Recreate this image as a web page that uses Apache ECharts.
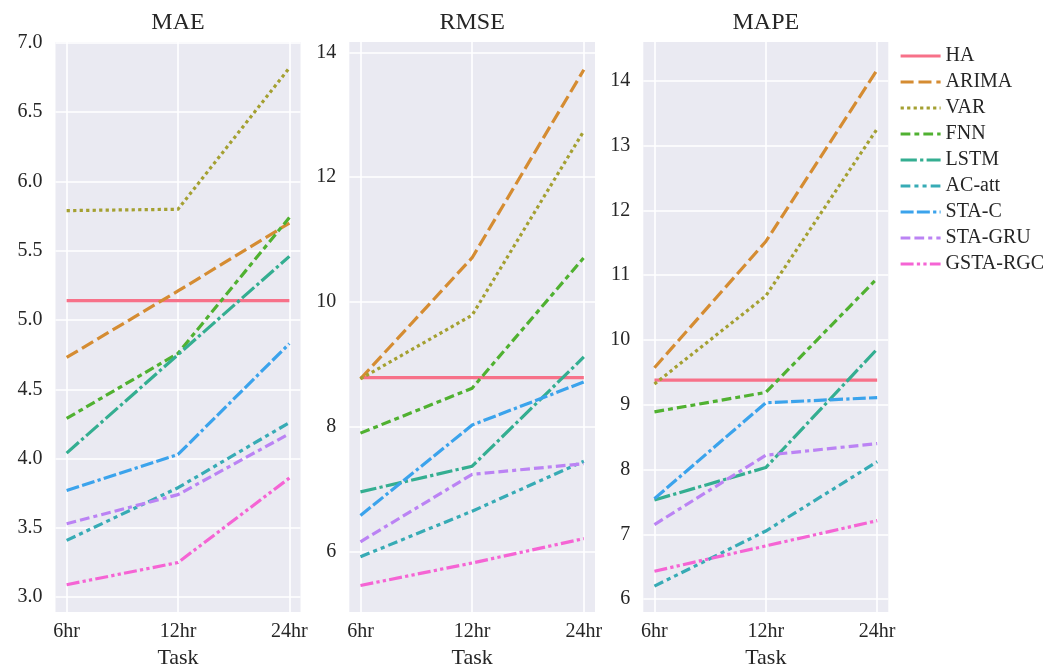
<!DOCTYPE html>
<html>
<head>
<meta charset="utf-8">
<script src="https://cdn.jsdelivr.net/npm/echarts@6/dist/echarts.min.js"></script>
<style>
html,body{margin:0;padding:0;background:#fff;}
#chart{width:1063px;height:666px;}
</style>
</head>
<body>
<div id="chart"></div>
<script>
const categories = ['6hr', '12hr', '24hr'];
const models = ['HA', 'ARIMA', 'VAR', 'FNN', 'LSTM', 'AC-att', 'STA-C', 'STA-GRU', 'GSTA-RGC'];
const metrics = ['MAE', 'RMSE', 'MAPE'];
const xLabel = 'Task';

// values per model (order of models), per task (order of categories)
const maeValues = [
  [5.14, 5.14, 5.14],
  [4.73, 5.21, 5.70],
  [5.79, 5.80, 6.82],
  [4.29, 4.76, 5.74],
  [4.04, 4.75, 5.46],
  [3.41, 3.79, 4.26],
  [3.77, 4.03, 4.83],
  [3.53, 3.74, 4.18],
  [3.09, 3.25, 3.86]
];
const rmseValues = [
  [8.79, 8.79, 8.79],
  [8.77, 10.71, 13.72],
  [8.77, 9.79, 12.74],
  [7.90, 8.62, 10.71],
  [6.96, 7.37, 9.12],
  [5.92, 6.65, 7.45],
  [6.58, 8.03, 8.72],
  [6.16, 7.24, 7.41],
  [5.46, 5.82, 6.21]
];
const mapeValues = [
  [9.38, 9.38, 9.38],
  [9.57, 11.52, 14.17],
  [9.32, 10.68, 13.26],
  [8.89, 9.19, 10.95],
  [7.53, 8.03, 9.86],
  [6.20, 7.05, 8.12],
  [7.55, 9.03, 9.11],
  [7.15, 8.22, 8.40],
  [6.43, 6.82, 7.21]
];

const palette = ['#f77189', '#d58c32', '#a4a031', '#50b131', '#34ae91', '#37abb5', '#3ba3ec', '#bb83f4', '#f564d4'];
const dashUnits = [
  null,
  [4, 1.5],
  [1, 1],
  [3, 1.25, 1.5, 1.25],
  [5, 1, 1, 1],
  [3, 1.25, 1.25, 1.25, 1.25, 1.25],
  [4, 1, 4, 1, 1, 1],
  [3, 1.25, 3, 1.25, 1.25, 1.25],
  [4, 1, 1, 1, 1, 1]
];

const FONT = '"Liberation Serif", "DejaVu Serif", serif';
const TXT = '#262626';
const LW = 3.2;
const DU = 3.25;

const panels = [
  { values: maeValues, left: 55.5, width: 245, min: 2.893, max: 7.007, split: 8, fmt: v => v.toFixed(1) },
  { values: rmseValues, left: 349.3, width: 245.7, min: 5.035, max: 14.165, split: 5, fmt: v => String(Math.round(v)) },
  { values: mapeValues, left: 643.3, width: 245, min: 5.8, max: 14.6, split: 9, fmt: v => String(Math.round(v)) }
];
const TOP = 42, HEIGHT = 570;

const grids = [], xAxes = [], yAxes = [], titles = [], series = [];
panels.forEach((p, i) => {
  grids.push({ left: p.left, top: TOP, width: p.width, height: HEIGHT, show: true, backgroundColor: '#eaeaf2', borderWidth: 0, containLabel: false, outerBoundsMode: 'none' });
  titles.push({
    text: metrics[i], left: p.left + p.width / 2, top: 11, textAlign: 'center', padding: 0,
    textStyle: { fontFamily: FONT, fontSize: 24, fontWeight: 'normal', color: TXT }
  });
  xAxes.push({
    type: 'value', gridIndex: i, min: -0.1, max: 2.1, splitNumber: 2,
    name: xLabel, nameLocation: 'middle', nameGap: 31,
    nameTextStyle: { fontFamily: FONT, fontSize: 22, color: TXT },
    axisLine: { show: false }, axisTick: { show: false },
    axisLabel: {
      fontFamily: FONT, fontSize: 20, color: TXT, margin: 10,
      showMinLabel: false, showMaxLabel: false,
      formatter: v => (Math.abs(v - Math.round(v)) < 1e-6 && categories[Math.round(v)]) ? categories[Math.round(v)] : ''
    },
    splitLine: { show: true, showMinLine: false, showMaxLine: false, lineStyle: { color: '#ffffff', width: 1.6 } }
  });
  yAxes.push({
    type: 'value', gridIndex: i, min: p.min, max: p.max, splitNumber: p.split,
    axisLine: { show: false }, axisTick: { show: false },
    axisLabel: {
      fontFamily: FONT, fontSize: 20, color: TXT, margin: 13,
      showMinLabel: false, showMaxLabel: false,
      formatter: p.fmt
    },
    splitLine: { show: true, showMinLine: false, showMaxLine: false, lineStyle: { color: '#ffffff', width: 1.6 } }
  });
  models.forEach((m, j) => {
    series.push({
      type: 'line', name: m, xAxisIndex: i, yAxisIndex: i,
      data: p.values[j].map((v, k) => [k, v]),
      symbol: 'none', showSymbol: false,
      itemStyle: { color: palette[j] },
      lineStyle: { color: palette[j], width: LW, type: dashUnits[j] ? dashUnits[j].map(d => d * DU) : 'solid', join: 'round' },
      emphasis: { disabled: true },
      animation: false
    });
  });
});

const chart = echarts.init(document.getElementById('chart'), null, { renderer: 'canvas' });
chart.setOption({
  backgroundColor: '#ffffff',
  animation: false,
  title: titles,
  grid: grids,
  xAxis: xAxes,
  yAxis: yAxes,
  legend: {
    data: models, orient: 'vertical', left: 899, top: 46,
    itemWidth: 40, itemHeight: 14, itemGap: 6, padding: 0,
    itemStyle: { opacity: 0 },
    lineStyle: { width: LW },
    textStyle: { fontFamily: FONT, fontSize: 20, color: TXT, lineHeight: 20 },
    selectedMode: false
  },
  series: series
});
</script>
</body>
</html>
